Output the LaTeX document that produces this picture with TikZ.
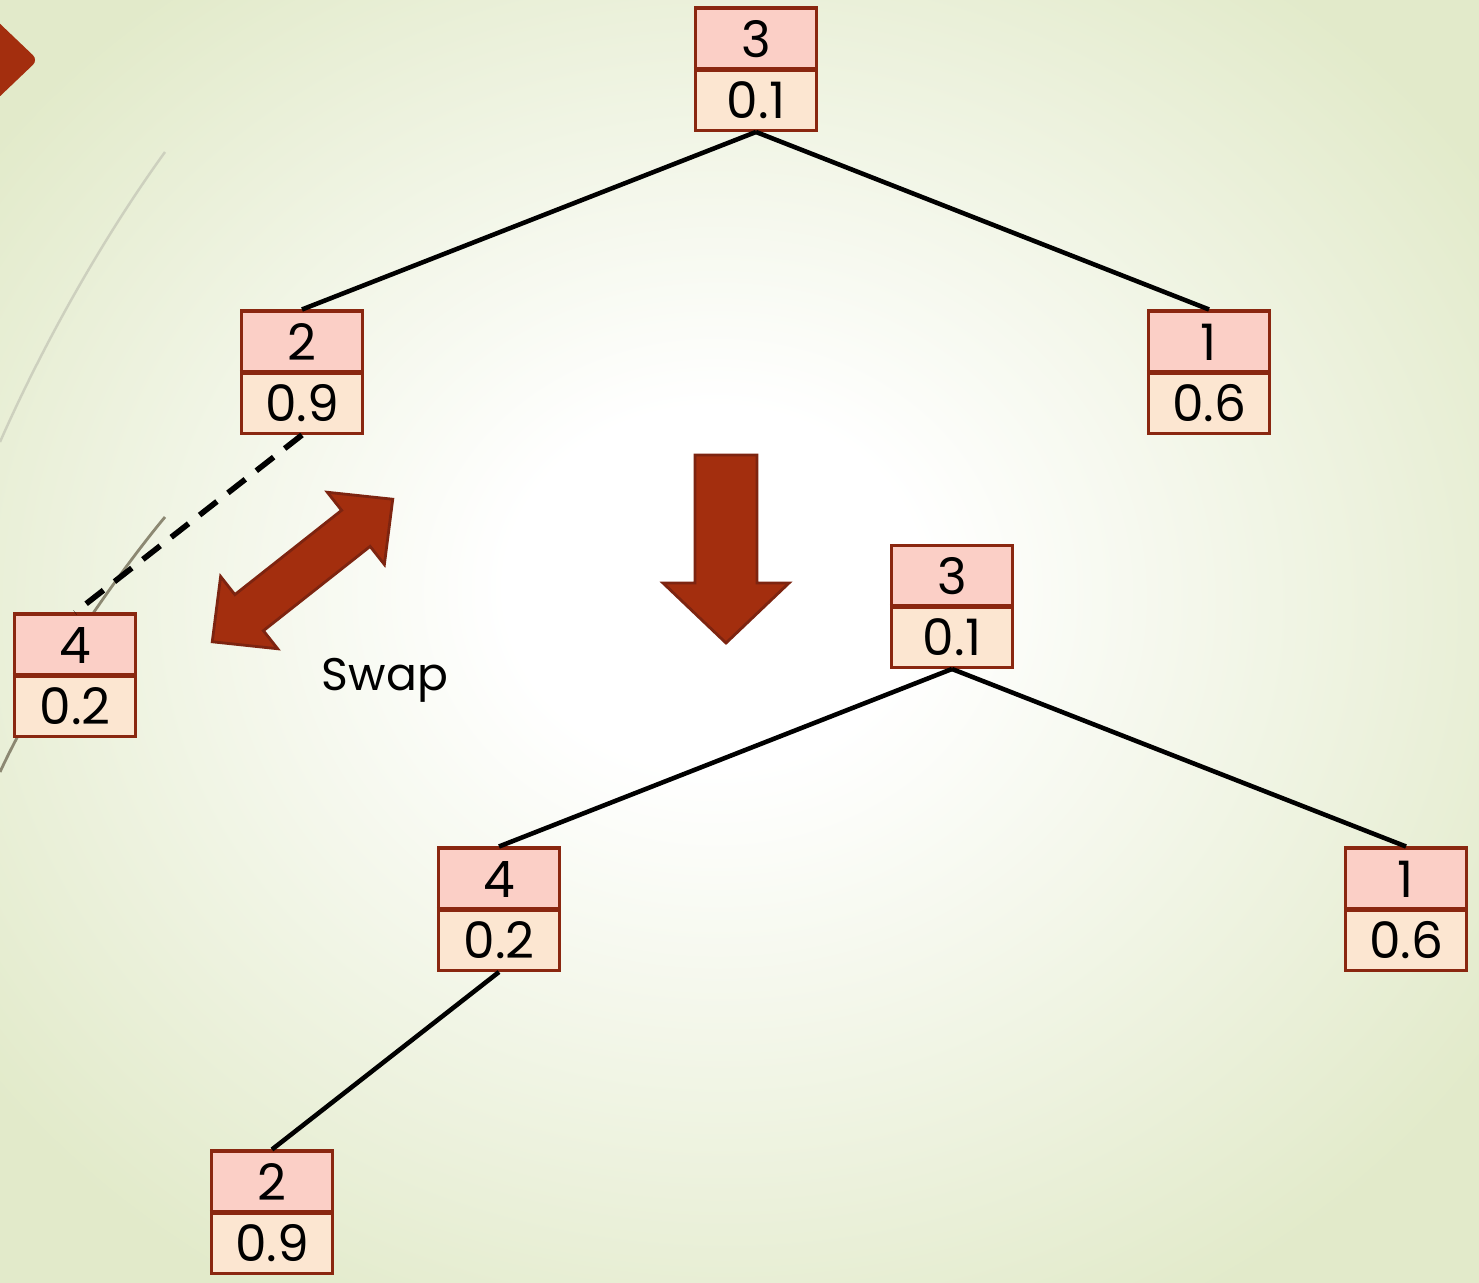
\documentclass[tikz,border=0pt]{standalone}
\usepackage{fontspec}
\setmainfont{Poppins}
\usetikzlibrary{positioning, shapes.multipart}

\definecolor{keypink}{HTML}{FBCFC6}
\definecolor{valpeach}{HTML}{FCE6D1}
\definecolor{boxred}{HTML}{8A2710}
\definecolor{arrowred}{HTML}{A32E0E}
\definecolor{arrowedge}{HTML}{7D2410}
\definecolor{curvegrey}{HTML}{CDD0BE}
\definecolor{curvedark}{HTML}{8C8872}

\pgfdeclareradialshading{bgglow}{\pgfpoint{-1bp}{2.4bp}}{rgb(0bp)=(1,1,1); rgb(7bp)=(1,1,1); rgb(31bp)=(0.886,0.918,0.792); rgb(50bp)=(0.886,0.918,0.792)}

% key over value, both parts the same height
\newcommand{\kvstrut}{\rule[-0.03cm]{0pt}{0.43cm}}
\newcommand{\kv}[2]{\kvstrut#1\nodepart{two}\kvstrut#2}

\begin{document}
\begin{tikzpicture}[
    node distance=1.775cm,
    kv/.style={rectangle split, rectangle split parts=2, draw=boxred, line width=0.9pt,
        rectangle split part fill={keypink,valpeach}, minimum width=1.21cm,
        inner xsep=0pt, inner ysep=0.075cm,
        font=\fontsize{14.3}{17}\selectfont},
    edge/.style={line width=1.3pt, black},
    swapedge/.style={edge, line width=1.6pt, dash pattern=on 0.22cm off 0.14cm},
    bigarrow/.style={fill=arrowred, draw=arrowedge, line width=0.8pt, line join=miter}
]
    % background
    \useasboundingbox (0,0) rectangle (14.79,-12.82);
    \shade[shading=bgglow] (0,0) rectangle (14.79,-12.82);
    \fill[arrowred, rounded corners=2pt] (-0.05,-0.19) -- (0.38,-0.60) -- (-0.05,-1.01) -- cycle;
    \draw[curvegrey, line width=0.7pt] (1.65,-1.52) .. controls (1.05,-2.35) and (0.45,-3.4) .. (0,-4.42);
    \draw[curvedark, line width=0.8pt] (1.65,-5.17) .. controls (1.25,-5.65) and (0.45,-6.75) .. (0,-7.72);

    % tree before the swap
    \node[kv, anchor=north] (r1) at (7.56,-0.065) {\kv{3}{0.1}};
    \node[kv, below=of r1, xshift=-4.54cm] (l1) {\kv{2}{0.9}};
    \node[kv, below=of r1, xshift=4.53cm] (rr1) {\kv{1}{0.6}};
    \node[kv, below=of l1, xshift=-2.27cm] (s) {\kv{4}{0.2}};

    \draw[edge] (r1.south) -- (l1.north);
    \draw[edge] (r1.south) -- (rr1.north);
    \draw[swapedge] (l1.south) -- (s.north);

    % swap arrows
    \begin{scope}[shift={(3.025,-5.705)}, rotate=38.3]
        \draw[bigarrow] (-1.15,0) -- (-0.68,0.46) -- (-0.68,0.23) -- (0.68,0.23) -- (0.68,0.46)
            -- (1.15,0) -- (0.68,-0.46) -- (0.68,-0.23) -- (-0.68,-0.23) -- (-0.68,-0.46) -- cycle;
    \end{scope}
    \node[font=\fontsize{13}{16}\selectfont] (swaplabel) at (3.85,-6.8) {Swap};
    \draw[bigarrow] (6.95,-4.55) -- (7.57,-4.55) -- (7.57,-5.83) -- (7.89,-5.83) -- (7.26,-6.43)
        -- (6.63,-5.83) -- (6.95,-5.83) -- cycle;

    % tree after the swap
    \node[kv, anchor=north] (r2) at (9.52,-5.435) {\kv{3}{0.1}};
    \node[kv, below=of r2, xshift=-4.53cm] (a2) {\kv{4}{0.2}};
    \node[kv, below=of r2, xshift=4.54cm] (b2) {\kv{1}{0.6}};
    \node[kv, below=of a2, xshift=-2.27cm] (c2) {\kv{2}{0.9}};

    \draw[edge] (r2.south) -- (a2.north);
    \draw[edge] (r2.south) -- (b2.north);
    \draw[edge] (a2.south) -- (c2.north);

    % thicker dividers
    \foreach \n in {r1,l1,rr1,s,r2,a2,b2,c2}
        \draw[boxred, line width=1.5pt] (\n.text split west) -- (\n.text split east);
\end{tikzpicture}
\end{document}
